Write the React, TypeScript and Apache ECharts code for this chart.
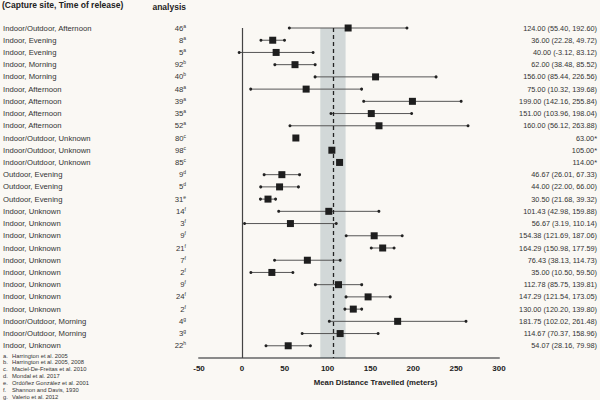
import React, { useEffect, useRef } from "react";
import * as echarts from "echarts";

const studyLabels = [
  "Indoor/Outdoor, Afternoon",
  "Indoor, Evening",
  "Indoor, Evening",
  "Indoor, Morning",
  "Indoor, Morning",
  "Indoor, Afternoon",
  "Indoor, Afternoon",
  "Indoor, Afternoon",
  "Indoor, Afternoon",
  "Indoor/Outdoor, Unknown",
  "Indoor/Outdoor, Unknown",
  "Indoor/Outdoor, Unknown",
  "Outdoor, Evening",
  "Outdoor, Evening",
  "Outdoor, Evening",
  "Indoor, Unknown",
  "Indoor, Unknown",
  "Indoor, Unknown",
  "Indoor, Unknown",
  "Indoor, Unknown",
  "Indoor, Unknown",
  "Indoor, Unknown",
  "Indoor, Unknown",
  "Indoor, Unknown",
  "Indoor/Outdoor, Morning",
  "Indoor/Outdoor, Morning",
  "Indoor, Unknown",
];
const nValues = [46, 8, 5, 92, 40, 48, 39, 35, 52, 80, 98, 85, 9, 5, 31, 14, 3, 9, 21, 7, 2, 9, 24, 2, 4, 3, 22];
const refs = ["a", "a", "a", "b", "b", "a", "a", "a", "a", "c", "c", "c", "d", "d", "e", "f", "f", "f", "f", "f", "f", "f", "f", "f", "g", "g", "h"];
const means = [124, 36, 40, 62, 156, 75, 199, 151, 160, 63, 105, 114, 46.67, 44, 30.5, 101.43, 56.67, 154.38, 164.29, 76.43, 35, 112.78, 147.29, 130, 181.75, 114.67, 54.07];
const lows: (number | null)[] = [55.4, 22.28, -3.12, 38.48, 85.44, 10.32, 142.16, 103.96, 56.12, null, null, null, 26.01, 22.0, 21.68, 42.98, 3.19, 121.69, 150.98, 38.13, 10.5, 85.75, 121.54, 120.2, 102.02, 70.37, 28.16];
const highs: (number | null)[] = [192.6, 49.72, 83.12, 85.52, 226.56, 139.68, 255.84, 198.04, 263.88, null, null, null, 67.33, 66.0, 39.32, 159.88, 110.14, 187.06, 177.59, 114.73, 59.5, 139.81, 173.05, 139.8, 261.48, 158.96, 79.98];
const pooledMean = 106.6;
const pooledLow = 91.5;
const pooledHigh = 121;
const footnotes = [
  ["a.", "Harrington et al. 2005"],
  ["b.", "Harrington et al. 2005, 2008"],
  ["c.", "Maciel-De-Freitas et al. 2010"],
  ["d.", "Mondal et al. 2017"],
  ["e.", "Ordóñez González et al. 2001"],
  ["f.", "Shannon and Davis, 1930"],
  ["g.", "Valerio et al. 2012"],
];

const FONT = "'Liberation Sans', Arial, sans-serif";

export default function App() {
  const ref = useRef<HTMLDivElement>(null);
  useEffect(() => {
    if (!ref.current) return;
    const chart = echarts.init(ref.current, undefined, { renderer: "svg" });
    const rightText = means.map((m, i) =>
      lows[i] == null ? `${m.toFixed(2)}*` : `${m.toFixed(2)} (${(lows[i] as number).toFixed(2)}, ${(highs[i] as number).toFixed(2)})`
    );
    const barData = means
      .map((_, i) => (lows[i] == null ? null : [lows[i], highs[i], i]))
      .filter((d) => d !== null);
    const yBase = {
      type: "value",
      min: 0,
      max: 27,
      interval: 1,
      inverse: true,
      splitLine: { show: false },
      axisTick: { show: false },
      axisLine: { show: false },
    };
    const option: any = {
      animation: false,
      backgroundColor: "#faf8f4",
      textStyle: { fontFamily: FONT },
      grid: { left: 198, right: 100, top: 28, bottom: 42, containLabel: false },
      xAxis: {
        type: "value",
        min: -50,
        max: 300,
        interval: 50,
        splitLine: { show: false },
        axisTick: { show: false },
        axisLine: { onZero: false, lineStyle: { color: "#8a8a8a", width: 2 } },
        axisLabel: { fontFamily: FONT, fontSize: 8, fontWeight: "bold", color: "#222", margin: 6 },
        name: "Mean Distance Travelled (meters)",
        nameLocation: "middle",
        nameGap: 20,
        nameTextStyle: { fontFamily: FONT, fontSize: 7.8, fontWeight: "bold", color: "#222", padding: [0, 0, 0, 53] },
      },
      yAxis: [
        { ...yBase, axisLabel: { show: false } },
        {
          ...yBase,
          position: "left",
          axisLabel: {
            align: "left",
            margin: 196,
            fontFamily: FONT,
            fontSize: 7.7,
            color: "#333",
            formatter: (v: number) => studyLabels[v] ?? "",
          },
        },
        {
          ...yBase,
          position: "left",
          axisLabel: {
            align: "right",
            margin: 13,
            fontFamily: FONT,
            color: "#333",
            formatter: (v: number) => (nValues[v] == null ? "" : `{n|${nValues[v]}}{s|${refs[v]}}`),
            rich: {
              n: { fontSize: 7.7, fontFamily: FONT, color: "#333" },
              s: { fontSize: 5, fontFamily: FONT, color: "#333", padding: [0, 0, 5, 0] },
            },
          },
        },
        {
          ...yBase,
          position: "right",
          axisLabel: {
            align: "right",
            margin: 98,
            fontFamily: FONT,
            fontSize: 7.3,
            color: "#333",
            formatter: (v: number) => rightText[v] ?? "",
          },
        },
      ],
      series: [
        {
          type: "custom",
          xAxisIndex: 0,
          yAxisIndex: 0,
          z: 2,
          encode: { x: [0, 1], y: 2 },
          data: barData,
          renderItem: (params: any, api: any) => {
            const lo = api.value(0);
            const hi = api.value(1);
            const row = api.value(2);
            const p1 = api.coord([lo, row]);
            const p2 = api.coord([hi, row]);
            return {
              type: "group",
              children: [
                { type: "line", shape: { x1: p1[0], y1: p1[1], x2: p2[0], y2: p2[1] }, style: { stroke: "#555", lineWidth: 1 } },
                { type: "circle", shape: { cx: p1[0], cy: p1[1], r: 1.5 }, style: { fill: "#222" } },
                { type: "circle", shape: { cx: p2[0], cy: p2[1], r: 1.5 }, style: { fill: "#222" } },
              ],
            };
          },
        },
        {
          type: "scatter",
          xAxisIndex: 0,
          yAxisIndex: 0,
          z: 3,
          symbol: "rect",
          symbolSize: 7,
          itemStyle: { color: "#1e1e1e", opacity: 1 },
          data: means.map((m, i) => [m, i]),
        },
        {
          type: "scatter",
          xAxisIndex: 0,
          yAxisIndex: 0,
          z: 4,
          data: [],
          markArea: {
            silent: true,
            itemStyle: { color: "rgba(30,70,90,0.18)" },
            data: [[{ xAxis: pooledLow }, { xAxis: pooledHigh }]],
          },
          markLine: {
            silent: true,
            symbol: ["none", "none"],
            label: { show: false },
            data: [
              { xAxis: 0, lineStyle: { color: "#444", width: 1.2, type: "solid" } },
              { xAxis: pooledMean, lineStyle: { color: "#222", width: 1.3, type: [4, 3] } },
            ],
          },
        },
      ],
      graphic: [
        {
          type: "text",
          left: 2,
          top: 0,
          style: { text: "(Capture site, Time of release)", font: `bold 8.5px ${FONT}`, fill: "#222" },
        },
        {
          type: "text",
          x: 186,
          y: 7,
          style: { text: "analysis", font: `bold 8.5px ${FONT}`, fill: "#222", textAlign: "right", textVerticalAlign: "middle" },
        },
        ...footnotes.flatMap(([k, t], i) => [
          { type: "text", x: 3, y: 355.5 + i * 6.9, style: { text: k, font: `5.8px ${FONT}`, fill: "#333", textVerticalAlign: "middle" } },
          { type: "text", x: 12, y: 355.5 + i * 6.9, style: { text: t, font: `5.8px ${FONT}`, fill: "#333", textVerticalAlign: "middle" } },
        ]),
      ],
    };
    chart.setOption(option);
    return () => chart.dispose();
  }, []);
  return <div ref={ref} style={{ position: "fixed", left: 0, top: 0, width: 600, height: 400 }} />;
}
